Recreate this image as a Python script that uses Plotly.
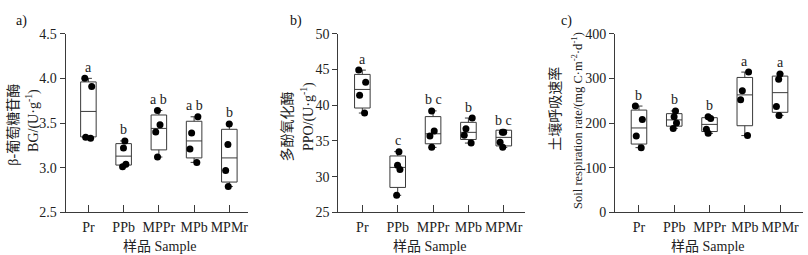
import plotly.graph_objects as go

W, H = 808, 255
FONT = "Liberation Serif, Noto Sans CJK SC, serif"
AX = "#3a3a3a"
FS = 14

categories = ["Pr", "PPb", "MPPr", "MPb", "MPMr"]

# Panel a: beta-glucosidase (BG)
bg_points = {
    "Pr": [4.00, 3.91, 3.34, 3.33],
    "PPb": [3.30, 3.22, 3.04, 3.01],
    "MPPr": [3.64, 3.48, 3.40, 3.12],
    "MPb": [3.57, 3.39, 3.21, 3.06],
    "MPMr": [3.49, 3.26, 2.97, 2.79],
}
bg_q1 = [3.345, 3.03, 3.20, 3.11, 2.84]
bg_median = [3.63, 3.13, 3.44, 3.30, 3.11]
bg_q3 = [3.96, 3.27, 3.59, 3.52, 3.43]
bg_lower = [3.33, 3.01, 3.12, 3.06, 2.79]
bg_upper = [4.00, 3.30, 3.64, 3.57, 3.49]
bg_letters = ["a", "b", "a b", "a b", "b"]

# Panel b: polyphenol oxidase (PPO)
ppo_points = {
    "Pr": [44.9, 43.2, 41.4, 38.9],
    "PPb": [33.5, 31.6, 31.0, 27.4],
    "MPPr": [39.2, 36.4, 35.7, 34.1],
    "MPb": [38.2, 36.7, 35.8, 34.7],
    "MPMr": [36.2, 36.2, 34.8, 34.1],
}
ppo_q1 = [39.6, 28.5, 34.6, 35.2, 34.3]
ppo_median = [42.2, 31.3, 36.0, 36.2, 35.5]
ppo_q3 = [44.3, 32.9, 38.4, 37.6, 36.5]
ppo_lower = [38.9, 27.4, 34.1, 34.7, 34.1]
ppo_upper = [44.9, 33.5, 39.2, 38.2, 36.3]
ppo_letters = ["a", "c", "b c", "b", "b c"]

# Panel c: soil respiration rate
sr_points = {
    "Pr": [238, 208, 171, 145],
    "PPb": [227, 214, 200, 188],
    "MPPr": [214, 210, 186, 177],
    "MPb": [314, 272, 252, 172],
    "MPMr": [310, 298, 237, 217],
}
sr_q1 = [153, 193, 181, 194, 224]
sr_median = [189, 207, 197, 263, 268]
sr_q3 = [229, 221, 212, 302, 305]
sr_lower = [145, 188, 177, 172, 217]
sr_upper = [238, 227, 214, 314, 310]
sr_letters = ["b", "b", "b", "a", "a"]

panels = [
    dict(points=bg_points, q1=bg_q1, med=bg_median, q3=bg_q3, lo=bg_lower, up=bg_upper,
         letters=bg_letters, yrange=[2.5, 4.5], dtick=0.5, fmt=".1f",
         px=(65.5, 248), xr=[-0.65, 4.53],
         t1=("β-葡萄糖苷酶", 14, 125, 14), t2=("BG/(U·g<sup>-1</sup>)", 33, 121, 14),
         xt=159.5, tag=("a)", 21.5)),
    dict(points=ppo_points, q1=ppo_q1, med=ppo_median, q3=ppo_q3, lo=ppo_lower, up=ppo_upper,
         letters=ppo_letters, yrange=[25, 50], dtick=5, fmt="d",
         px=(338.3, 525), xr=[-0.68, 4.6],
         t1=("多酚氧化酶", 287, 127, 14), t2=("PPO/(U·g<sup>-1</sup>)", 307, 117, 14),
         xt=430, tag=("b)", 296)),
    dict(points=sr_points, q1=sr_q1, med=sr_median, q3=sr_q3, lo=sr_lower, up=sr_upper,
         letters=sr_letters, yrange=[0, 400], dtick=100, fmt="d",
         px=(615, 803), xr=[-0.68, 4.65],
         t1=("土壤呼吸速率", 555, 108, 14),
         t2=("Soil respiration rate/(mg C·m<sup>-2</sup>·d<sup>-1</sup>)", 577, 121, 12.5),
         xt=708, tag=("c)", 566)),
]

ytop, ybot = 28.3, 218.3
fig = go.Figure()
layout = dict(width=W, height=H, margin=dict(l=0, r=0, t=0, b=0),
              paper_bgcolor="white", plot_bgcolor="white", showlegend=False,
              boxgap=0.37, font=dict(family=FONT, size=FS, color="#222"))
annotations = []

for i, p in enumerate(panels, start=1):
    xa = "x" if i == 1 else f"x{i}"
    ya = "y" if i == 1 else f"y{i}"
    # precomputed boxes with whiskers
    fig.add_trace(go.Box(
        x=categories, q1=p["q1"], median=p["med"], q3=p["q3"],
        lowerfence=p["lo"], upperfence=p["up"],
        xaxis=xa, yaxis=ya, boxpoints=False,
        line=dict(color=AX, width=1), fillcolor="rgba(0,0,0,0)",
        whiskerwidth=0.45,
    ))
    # raw sample points (jittered by the library)
    xs, ys = [], []
    for c in categories:
        for v in p["points"][c]:
            xs.append(c)
            ys.append(v)
    fig.add_trace(go.Box(
        x=xs, y=ys, xaxis=xa, yaxis=ya, boxpoints="all", jitter=0.55, pointpos=0,
        line=dict(width=0, color="rgba(0,0,0,0)"), fillcolor="rgba(0,0,0,0)",
        marker=dict(color="black", size=7),
    ))
    x0, x1 = p["px"]
    dom_x = [x0 / W, x1 / W]
    dom_y = [1 - ybot / H, 1 - ytop / H]
    layout[f"xaxis{'' if i == 1 else i}"] = dict(
        domain=dom_x, anchor=ya, type="category", categoryorder="array",
        categoryarray=categories, range=p["xr"], showline=True, linecolor=AX,
        linewidth=1, ticks="inside", ticklen=7, tickcolor=AX, showgrid=False,
        zeroline=False, ticklabelstandoff=2,
        tickfont=dict(family=FONT, size=FS, color="#222"))
    layout[f"yaxis{'' if i == 1 else i}"] = dict(
        domain=dom_y, anchor=xa, range=p["yrange"], dtick=p["dtick"],
        tick0=p["yrange"][0], tickformat=p["fmt"], showline=True, linecolor=AX,
        linewidth=1, ticks="outside", ticklen=5, tickcolor=AX, showgrid=False,
        zeroline=False, tickfont=dict(family=FONT, size=FS, color="#222"))
    # significance letters
    for c, up, lt in zip(categories, p["up"], p["letters"]):
        annotations.append(dict(x=c, y=up, xref=xa, yref=ya, text=lt, showarrow=False,
                                yshift=11, yanchor="middle",
                                font=dict(family=FONT, size=FS, color="#222")))
    # y titles
    for txt, tx, ty, fs in (p["t1"], p["t2"]):
        annotations.append(dict(x=tx / W, y=1 - ty / H, xref="paper", yref="paper",
                                text=txt, textangle=-90, showarrow=False,
                                xanchor="center", yanchor="middle",
                                font=dict(family=FONT, size=fs, color="#222")))
    # x title
    annotations.append(dict(x=p["xt"] / W, y=1 - 254 / H, xref="paper", yref="paper",
                            text="样品 Sample", showarrow=False, xanchor="center",
                            yanchor="middle", font=dict(family=FONT, size=FS, color="#222")))
    # panel tag
    annotations.append(dict(x=p["tag"][1] / W, y=1 - 15 / H, xref="paper", yref="paper",
                            text=p["tag"][0], showarrow=False, xanchor="center",
                            yanchor="middle", font=dict(family=FONT, size=FS, color="#111")))

layout["annotations"] = annotations
fig.update_layout(**layout)
fig.write_html("out.html")
